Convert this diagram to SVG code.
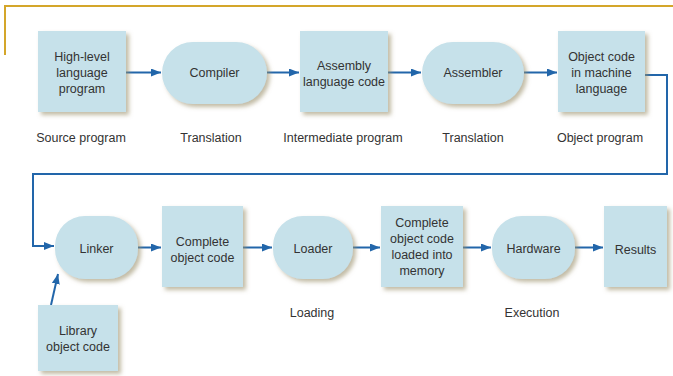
<svg xmlns="http://www.w3.org/2000/svg" width="673" height="376" viewBox="0 0 673 376">
<defs>
<style>
text{font-family:"Liberation Sans",Arial,sans-serif;font-size:12.5px;fill:#333;text-anchor:middle}
.n{fill:#c6e1ea;filter:url(#sh)}
.c{fill:none;stroke:#2266aa;stroke-width:2}
.frame{fill:none;stroke:#d4a62a;stroke-width:2}
</style>
<filter id="sh" x="-20%" y="-20%" width="150%" height="150%">
<feDropShadow dx="3" dy="3" stdDeviation="2" flood-color="#9a8f6a" flood-opacity="0.6"/>
</filter>
<marker id="ah" viewBox="0 0 10 8" refX="10" refY="4" markerWidth="10" markerHeight="8" markerUnits="userSpaceOnUse" orient="auto">
<path d="M0,0 L10,4 L0,8 z" fill="#2266aa"/>
</marker>
</defs>
<rect width="673" height="376" fill="#fff"/>
<path class="frame" d="M5,55 V6 H673"/>

<g id="connectors">
<line class="c" x1="126" y1="72.5" x2="161" y2="72.5" marker-end="url(#ah)"/>
<line class="c" x1="267" y1="72.5" x2="299" y2="72.5" marker-end="url(#ah)"/>
<line class="c" x1="388" y1="72.5" x2="421" y2="72.5" marker-end="url(#ah)"/>
<line class="c" x1="524" y1="72.5" x2="557" y2="72.5" marker-end="url(#ah)"/>
<path class="c" d="M645,75 H667 V174 H33 V246 H54" marker-end="url(#ah)"/>
<line class="c" x1="51" y1="305" x2="58" y2="274" marker-end="url(#ah)"/>
<line class="c" x1="137" y1="247.5" x2="161" y2="247.5" marker-end="url(#ah)"/>
<line class="c" x1="243" y1="247.5" x2="272" y2="247.5" marker-end="url(#ah)"/>
<line class="c" x1="353" y1="247.5" x2="380" y2="247.5" marker-end="url(#ah)"/>
<line class="c" x1="463" y1="247.5" x2="491" y2="247.5" marker-end="url(#ah)"/>
<line class="c" x1="575" y1="247.5" x2="603" y2="247.5" marker-end="url(#ah)"/>
</g>

<g id="highlevel">
<rect class="n" x="38" y="31" width="88" height="81"/>
<text x="82" y="61">High-level</text>
<text x="82" y="77">language</text>
<text x="82" y="93">program</text>
</g>
<g id="compiler">
<rect class="n" x="162" y="42" width="105" height="62" rx="31"/>
<text x="214.5" y="77">Compiler</text>
</g>
<g id="assembly">
<rect class="n" x="300" y="31" width="88" height="81"/>
<text x="344" y="70">Assembly</text>
<text x="344" y="86">language code</text>
</g>
<g id="assembler">
<rect class="n" x="422" y="42" width="102" height="62" rx="31"/>
<text x="473" y="77">Assembler</text>
</g>
<g id="objectcode">
<rect class="n" x="558" y="31" width="87" height="81"/>
<text x="601.5" y="61">Object code</text>
<text x="601.5" y="77">in machine</text>
<text x="601.5" y="93">language</text>
</g>

<g id="labels-top">
<text x="81" y="142">Source program</text>
<text x="211" y="142">Translation</text>
<text x="343" y="142">Intermediate program</text>
<text x="473" y="142">Translation</text>
<text x="600" y="142">Object program</text>
</g>

<g id="linker">
<rect class="n" x="55" y="216" width="83" height="63" rx="30"/>
<text x="96.5" y="253">Linker</text>
</g>
<g id="completeobj">
<rect class="n" x="162" y="206" width="81" height="81"/>
<text x="202.5" y="246">Complete</text>
<text x="202.5" y="262">object code</text>
</g>
<g id="loader">
<rect class="n" x="273" y="216" width="80" height="63" rx="30"/>
<text x="313" y="253">Loader</text>
</g>
<g id="loaded">
<rect class="n" x="381" y="206" width="82" height="81"/>
<text x="422" y="227">Complete</text>
<text x="422" y="243">object code</text>
<text x="422" y="259">loaded into</text>
<text x="422" y="275">memory</text>
</g>
<g id="hardware">
<rect class="n" x="492" y="216" width="83" height="63" rx="30"/>
<text x="533.5" y="253">Hardware</text>
</g>
<g id="results">
<rect class="n" x="604" y="206" width="63" height="81"/>
<text x="635.5" y="254">Results</text>
</g>
<g id="library">
<rect class="n" x="38" y="305" width="80" height="66"/>
<text x="78" y="335">Library</text>
<text x="78" y="351">object code</text>
</g>

<g id="labels-bottom">
<text x="312" y="317">Loading</text>
<text x="532" y="317">Execution</text>
</g>
</svg>
